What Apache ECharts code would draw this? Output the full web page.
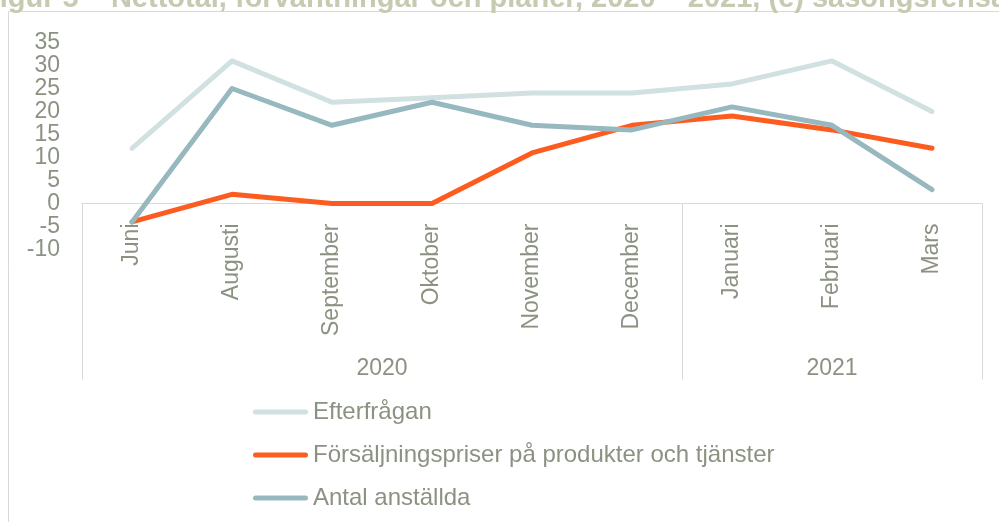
<!DOCTYPE html>
<html>
<head>
<meta charset="utf-8">
<script src="https://cdn.jsdelivr.net/npm/echarts@6/dist/echarts.min.js"></script>
<style>
  html, body { margin: 0; padding: 0; background: #fff; }
  #chart { width: 999px; height: 522px; }
</style>
</head>
<body>
<div id="chart"></div>
<script>
// months along the x axis, grouped by year
var months = ['Juni', 'Augusti', 'September', 'Oktober', 'November', 'December', 'Januari', 'Februari', 'Mars'];
var years = ['2020', '2021'];
var yearSizes = [6, 3]; // how many months belong to each year

var efterfragan = [12, 31, 22, 23, 24, 24, 26, 31, 20];
var priser = [-4, 2, 0, 0, 11, 17, 19, 16, 12];
var anstallda = [-4, 25, 17, 22, 17, 16, 21, 17, 3];

var titleText = 'Figur 5 – Nettotal, förväntningar och planer, 2020 – 2021, (e) säsongsrensade';

var textColor = '#8b9282';
var font = 'Liberation Sans, Arial, sans-serif';
var fs = 23;

// year label positions (centre of each group on a 0..9 scale)
var yearCentres = {};
var groupStarts = []; // tick indexes where a group starts
var start = 0;
yearSizes.forEach(function (n, i) {
  groupStarts.push(start);
  yearCentres[start + n / 2] = years[i];
  start += n;
});

// thick line with round ends for the legend
var lineIcon = 'path://M2.5,0 L52.5,0 A2.5,2.5 0 0 1 52.5,5 L2.5,5 A2.5,2.5 0 0 1 2.5,0 Z';

var chart = echarts.init(document.getElementById('chart'));

var option = {
  animation: false,
  title: {
    text: titleText,
    left: -18,
    top: -16,
    padding: 0,
    textStyle: { fontFamily: font, fontSize: 29, fontWeight: 'bold', color: '#c7c9b1' }
  },
  graphic: [{
    type: 'rect',
    shape: { x: 8.5, y: 11.5, width: 1200, height: 700 },
    style: { fill: 'none', stroke: '#d9d9d9', lineWidth: 1 },
    silent: true
  }],
  legend: {
    orient: 'vertical',
    left: 253,
    top: 400,
    padding: 0,
    icon: lineIcon,
    itemWidth: 55,
    itemHeight: 5,
    itemGap: 19,
    textStyle: { fontFamily: font, fontSize: 24, color: textColor }
  },
  grid: { left: 82, right: 17, top: 42.5, height: 207 },
  xAxis: [{
    type: 'category',
    data: months,
    boundaryGap: true,
    axisLine: { onZero: true, lineStyle: { color: '#d9d9d9', width: 1 } },
    axisTick: {
      show: true,
      length: 176,
      interval: function (idx) { return groupStarts.indexOf(idx) >= 0; },
      lineStyle: { color: '#d9d9d9', width: 1 }
    },
    axisLabel: {
      rotate: 90,
      interval: 0,
      margin: -26,
      fontFamily: font,
      fontSize: fs,
      color: textColor
    }
  }, {
    type: 'value',
    position: 'bottom',
    min: 0,
    max: 9,
    interval: 1.5,
    axisLine: { show: false },
    axisTick: { show: false },
    splitLine: { show: false },
    axisLabel: {
      margin: 108,
      fontFamily: font,
      fontSize: fs,
      color: textColor,
      showMinLabel: false,
      showMaxLabel: false,
      formatter: function (v) { return yearCentres[v] || ''; }
    }
  }],
  yAxis: {
    type: 'value',
    min: -10,
    max: 35,
    interval: 5,
    axisLine: { show: false },
    axisTick: { show: false },
    splitLine: { show: false },
    axisLabel: { margin: 22, fontFamily: font, fontSize: fs, color: textColor }
  },
  series: [{
    name: 'Efterfrågan',
    type: 'line',
    data: efterfragan,
    symbol: 'none',
    color: '#d1e0e1',
    lineStyle: { width: 5, cap: 'round', join: 'round' }
  }, {
    name: 'Försäljningspriser på produkter och tjänster',
    type: 'line',
    data: priser,
    symbol: 'none',
    color: '#fd5c20',
    lineStyle: { width: 5, cap: 'round', join: 'round' }
  }, {
    name: 'Antal anställda',
    type: 'line',
    data: anstallda,
    symbol: 'none',
    color: '#98b8bf',
    lineStyle: { width: 5, cap: 'round', join: 'round' }
  }]
};

chart.setOption(option);
</script>
</body>
</html>
